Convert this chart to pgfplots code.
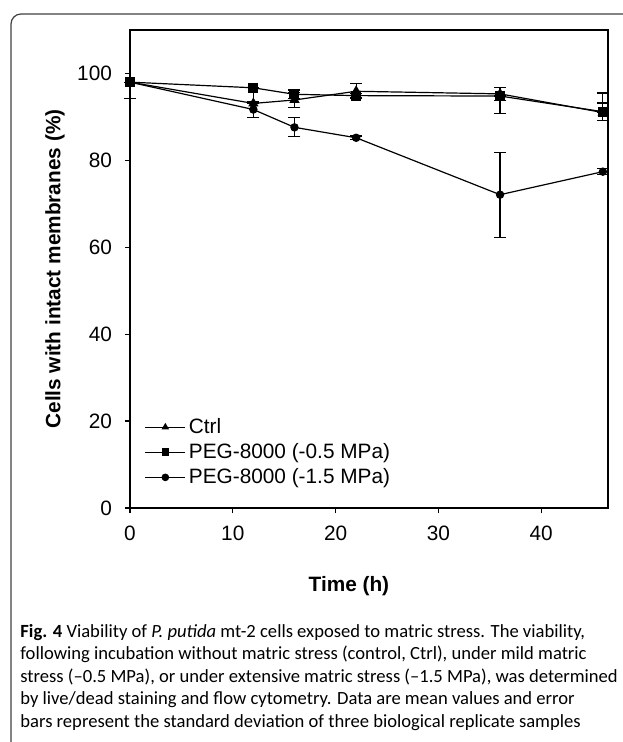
\documentclass[border=0pt]{standalone}
\usepackage{fontspec}
\setmainfont{Liberation Sans}
\newfontfamily\capfont{Carlito}
\usepackage{pgfplots}
\pgfplotsset{compat=1.18}
\usepackage{pgfplotstable}

% x = time (h), y = % intact, ep/em = error plus/minus
\pgfplotstableread{
x  y    ep   em
0  98.0 0.0  3.8
12 93.1 0.0  0.0
16 93.9 1.7  1.7
22 95.9 1.7  1.7
36 95.3 1.5  1.5
46 91.0 4.5  0.0
}\ctrl
\pgfplotstableread{
x  y    ep   em
0  98.0 0.0  0.0
12 96.7 0.0  3.4
16 95.2 1.0  1.0
22 94.9 0.5  0.5
36 94.8 0.0  4.1
46 91.2 2.0  2.0
}\pegmild
\pgfplotstableread{
x  y    ep   em
0  98.0 0.0  0.0
12 91.7 1.9  1.9
16 87.6 2.2  2.2
22 85.2 0.4  0.4
36 72.1 9.8  9.8
46 77.4 0.7  0.7
}\pegstrong

\newcommand{\chartfont}{\fontsize{10.4}{12}\selectfont}

\begin{document}
\begin{tikzpicture}[x=1pt,y=1pt]
\path[use as bounding box] (0,-371) rectangle (311,0);
\draw[rounded corners=5pt, line width=0.6pt, black!75] (5.5,-430) -- (5.5,-7) -- (360,-7);

\begin{axis}[
    at={(65pt,-254pt)}, anchor=south west,
    scale only axis, width=239pt, height=239pt,
    xmin=0, xmax=46.5, ymin=0, ymax=110,
    xtick={0,10,...,40}, ytick={0,20,...,100},
    tick align=outside, major tick length=2.5pt,
    xtick pos=bottom, ytick pos=left,
    axis line style={line width=0.8pt},
    tick style={black, line width=0.6pt},
    tick label style={font=\chartfont},
    yticklabel style={xshift=-3pt},
    xticklabel style={yshift=-3pt},
    /pgf/number format/assume math mode=true,
    xlabel={Time (h)},
    ylabel={Cells with intact membranes (\%)},
    label style={font=\chartfont\bfseries},
    xlabel style={at={(axis description cs:0.458,-0.163)}, anchor=center},
    ylabel style={at={(axis description cs:-0.157,0.5)}, anchor=center},
    clip=false,
    legend style={at={(axis description cs:0.03,0.195)}, anchor=north west,
        draw=none, fill=none, font=\chartfont, row sep=0.5pt,
        inner sep=0pt, nodes={inner sep=1.5pt}},
    legend cell align=left,
    legend image code/.code={\draw[mark repeat=2,mark phase=2,#1,mark size=1.6pt]
        plot coordinates {(0pt,0pt) (10pt,0pt) (20pt,0pt)};},
]
\addplot[black, line width=0.6pt, mark=triangle*, mark size=2.4pt,
    error bars/.cd, y dir=both, y explicit,
    error bar style={line width=0.6pt},
    error mark options={rotate=90, mark size=3pt, line width=0.6pt}]
    table[x=x, y=y, y error plus=ep, y error minus=em] {\ctrl};
\addplot[black, line width=0.6pt, mark=square*, mark size=2.2pt,
    error bars/.cd, y dir=both, y explicit,
    error bar style={line width=0.6pt},
    error mark options={rotate=90, mark size=3pt, line width=0.6pt}]
    table[x=x, y=y, y error plus=ep, y error minus=em] {\pegmild};
\addplot[black, line width=0.6pt, mark=*, mark size=1.8pt,
    error bars/.cd, y dir=both, y explicit,
    error bar style={line width=0.6pt},
    error mark options={rotate=90, mark size=3pt, line width=0.6pt}]
    table[x=x, y=y, y error plus=ep, y error minus=em] {\pegstrong};
\legend{Ctrl, PEG-8000 (-0.5 MPa), PEG-8000 (-1.5 MPa)}
\end{axis}

\begin{scope}[every node/.style={anchor=base west, inner sep=0pt,
      font=\capfont\fontsize{9.3}{11.25}\selectfont}]
\node at (10,-318.5) {\textbf{Fig. 4} Viability of \textit{P. putida} mt-2 cells exposed to matric stress. The viability,};
\node at (10,-329.75) {following incubation without matric stress (control, Ctrl), under mild matric};
\node at (10,-341) {stress (–0.5 MPa), or under extensive matric stress (–1.5 MPa), was determined};
\node at (10,-352.25) {by live/dead staining and flow cytometry. Data are mean values and error};
\node at (10,-363.5) {bars represent the standard deviation of three biological replicate samples};
\end{scope}
\end{tikzpicture}
\end{document}
